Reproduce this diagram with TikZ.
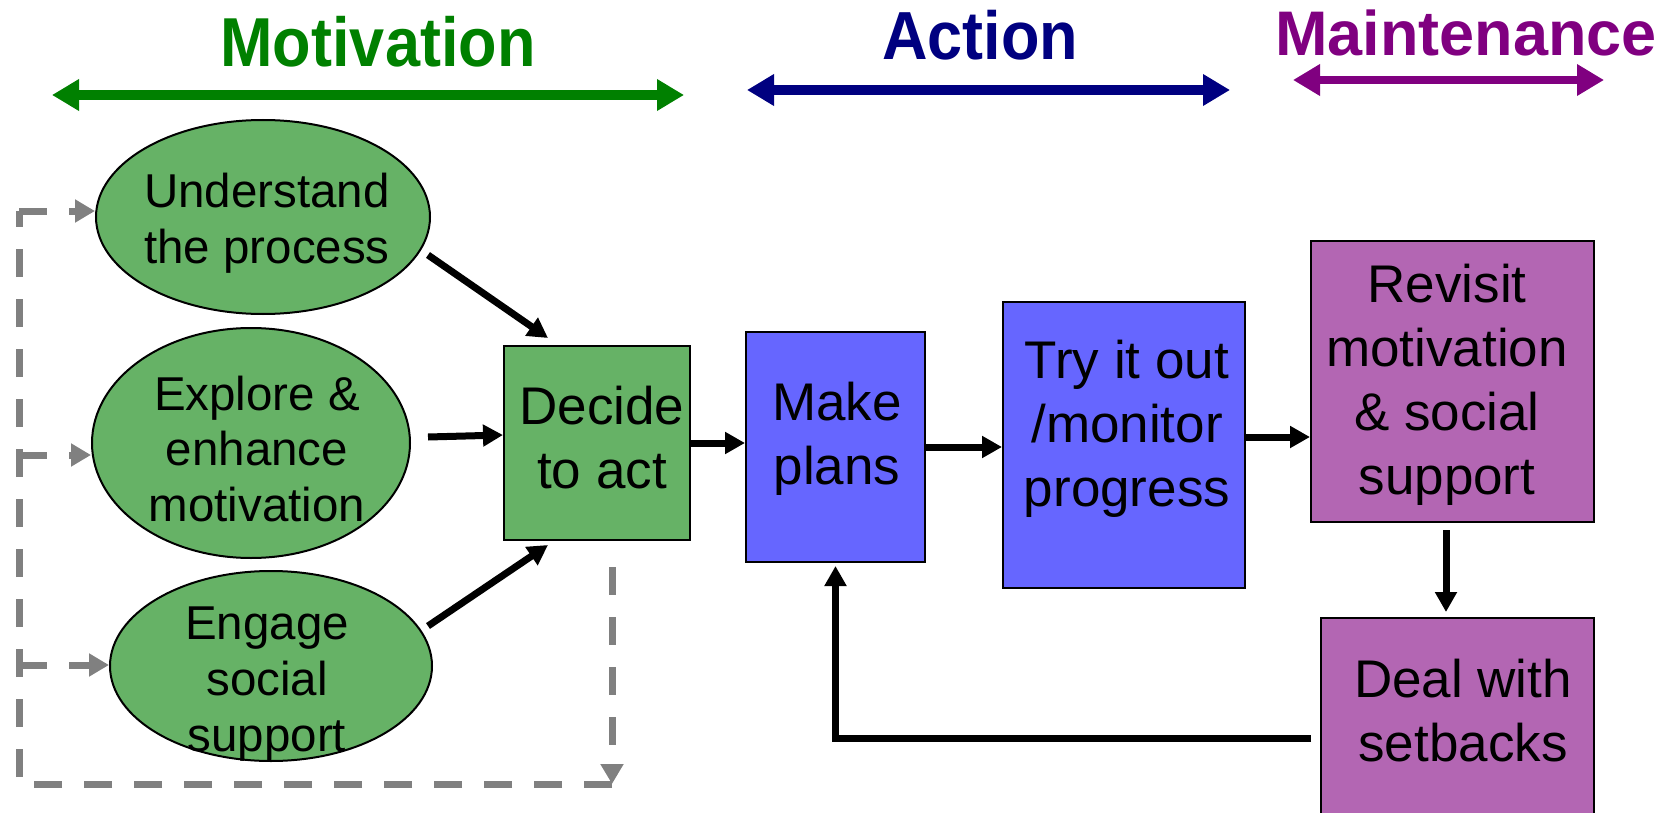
\documentclass[tikz,border=0pt]{standalone}
\usepackage{fontspec}
\setmainfont{Liberation Sans}
\usetikzlibrary{arrows.meta,shapes.geometric}
\definecolor{tgreen}{RGB}{0,128,0}
\definecolor{tnavy}{RGB}{0,0,128}
\definecolor{tpurple}{RGB}{128,0,128}
\definecolor{egreen}{RGB}{102,178,102}
\definecolor{bblue}{RGB}{102,102,255}
\definecolor{bpurple}{RGB}{179,102,179}
\definecolor{dgray}{RGB}{128,128,128}
\begin{document}
\begin{tikzpicture}[x=0.5pt,y=-0.5pt,
  ell/.style={ellipse, draw=black, line width=1pt, fill=egreen, inner sep=0pt},
  boxn/.style={rectangle, draw=black, line width=1pt, inner sep=0pt},
  etext/.style={font=\fontsize{23.75}{27.8}\selectfont, align=center, inner sep=0pt},
  btext/.style={font=\fontsize{26.5}{32}\selectfont, align=center, inner sep=0pt},
  arr/.style={line width=3.5pt, -{Triangle[length=10pt,width=10.5pt]}},
  gline/.style={draw=dgray, line width=3.5pt, dash pattern=on 14pt off 11pt},
  garr/.style={gline, -{Triangle[length=10pt,width=11pt]}},
  title/.style={font=\fontsize{31.5}{36}\selectfont\bfseries, anchor=base, inner sep=0pt},
  dbl/.style={line width=4.75pt, {Triangle[length=13.5pt,width=15pt]}-{Triangle[length=13.5pt,width=15pt]}}
]
\useasboundingbox (0,0) rectangle (1677,813);
\clip (0,0) rectangle (1677,813);

% titles
\node[title, text=tgreen] (tMot) at (378,67) {\scalebox{1}[1.1]{Motivation}};
\node[title, text=tnavy] (tAct) at (980,60) {\scalebox{1}[1.08]{Action}};
\node[title, text=tpurple] (tMai) at (1466,56) {Maintenance};

% phase arrows
\coordinate (g1) at (52,95); \coordinate (g2) at (684,95);
\coordinate (n1) at (747,90); \coordinate (n2) at (1230,90);
\coordinate (p1) at (1293,80); \coordinate (p2) at (1604,80);
\draw[dbl, draw=tgreen, fill=tgreen] (g1) -- (g2);
\draw[dbl, draw=tnavy, fill=tnavy] (n1) -- (n2);
\draw[dbl, draw=tpurple, fill=tpurple, line width=4.3pt] (p1) -- (p2);

% ellipses
\node[ell, minimum width=167pt, minimum height=97pt] (U) at (263,217) {};
\node[ell, minimum width=159pt, minimum height=115pt] (E) at (251,443) {};
\node[ell, minimum width=161pt, minimum height=95pt] (G) at (271,666) {};
\node[etext] (tU) at (267,223) {Understand\\the process};
\node[etext] (tE) at (257,449) {Explore \&\\enhance\\motivation};
\node[etext] (tG) at (267,684) {Engage\\social\\support};

% boxes
\node[boxn, fill=egreen, minimum width=93pt, minimum height=97pt] (D) at (597,443) {};
\node[boxn, fill=bblue, minimum width=89.5pt, minimum height=115pt] (M) at (835.5,447) {};
\node[boxn, fill=bblue, minimum width=121pt, minimum height=143pt] (T) at (1124,445) {};
\node[boxn, fill=bpurple, minimum width=141.5pt, minimum height=140.5pt] (R) at (1452.5,381.5) {};
\node[boxn, fill=bpurple, minimum width=136.5pt, minimum height=106pt] (S) at (1457.5,724) {};
\node[btext] (tD) at (602,438) {Decide\\to act};
\node[btext] (tM) at (837,439) {Make\\plans};
\node[btext] (tT) at (1127,429) {Try it out\\/monitor\\progress};
\node[btext] (tR) at (1447,385) {Revisit\\motivation\\\& social\\support};
\node[btext] (tS) at (1463,711) {Deal with\\setbacks};

% black connectors
\coordinate (u1) at (428,255); \coordinate (u2) at (548,338);
\coordinate (e1) at (428,437); \coordinate (e2) at (503,435);
\coordinate (s1) at (428,626); \coordinate (s2) at (548,545);
\draw[arr] (u1) -- (u2);
\draw[arr] (e1) -- (e2);
\draw[arr] (s1) -- (s2);
\draw[arr] (D.east) -- (M.west |- D.east);
\draw[arr] (M.east) -- (T.west |- M.east);
\draw[arr] ([yshift=4pt]T.east) -- ([yshift=4pt]R.west |- T.east);
\draw[arr, shorten <=3.5pt, shorten >=2.5pt] (R.south -| 1446,0) -- (S.north -| 1446,0);
\coordinate (fb) at (1311,738);
\draw[arr, shorten >=1.5pt] (fb) -| (M.south);

% dashed feedback
\coordinate (d0) at (612,567);
\coordinate (dc) at (612,784);
\coordinate (dl) at (19,784);
\coordinate (dt) at (19,211);
\coordinate (dm) at (19,455);
\coordinate (db) at (19,665);
\draw[garr] (d0) -- (dc);
\draw[gline] (dc) -- (dl) -- (dt);
\draw[garr] (dt) -- (U.west |- dt);
\draw[garr] (dm) -- (E.west |- dm);
\draw[garr] (db) -- (G.west |- db);
\end{tikzpicture}
\end{document}
